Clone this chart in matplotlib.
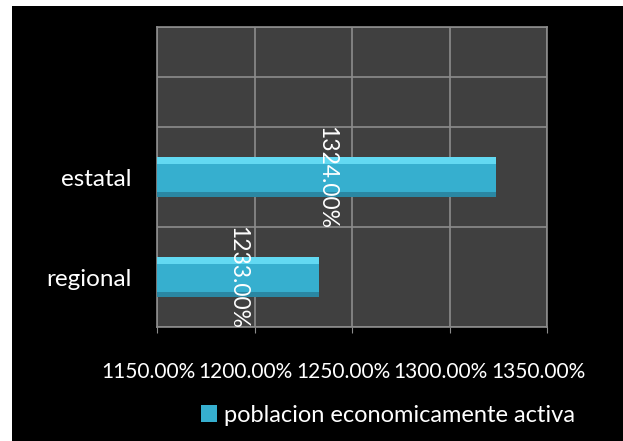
import matplotlib.pyplot as plt
from matplotlib.patches import Rectangle
from matplotlib.transforms import ScaledTranslation

# datos
categorias = ['regional', 'estatal']
valores = [1233, 1324]
posiciones = [1, 3]
serie = 'poblacion economicamente activa'
xticks = [1150, 1200, 1250, 1300, 1350]

plt.rcParams['font.family'] = ['Lato', 'DejaVu Sans']

fig = plt.figure(figsize=(6.23, 4.41), dpi=100, facecolor='white')
# fondo negro del grafico (borde blanco arriba e izquierda)
fig.patches.append(Rectangle((12 / 623, 0), 1, 1 - 6 / 441, transform=fig.transFigure,
                             facecolor='black', edgecolor='none', zorder=-10))

ax = fig.add_axes([157 / 623, 114 / 441, 390 / 623, 300 / 441])
ax.set_facecolor('#404040')

base = xticks[0]
ancho = [v - base for v in valores]
alto = 0.8
barras = ax.barh(posiciones, ancho, left=base, height=alto, color='#36afcf',
                 edgecolor='none', zorder=3, label=serie)
# bisel: brillo arriba, sombra abajo
ax.barh([p + alto / 2 - 0.07 for p in posiciones], ancho, left=base, height=0.14,
        color='#62d9f2', edgecolor='none', zorder=3)
ax.barh([p - alto / 2 + 0.05 for p in posiciones], ancho, left=base, height=0.1,
        color='#2a87a3', edgecolor='none', zorder=3)

for p, v in zip(posiciones, valores):
    ax.text((base + v) / 2, p, '%.2f%%' % v, rotation=-90, ha='center', va='center',
            color='white', fontsize=16.5, zorder=5)

ax.set_xlim(1150, 1350)
ax.set_ylim(0, 6)
ax.set_xticks(xticks)
ax.set_xticklabels([])
# etiquetas del eje x un poco corridas a la izquierda, como en el original
desplazar = ScaledTranslation(-9 / 100, -45 / 100, fig.dpi_scale_trans)
for t in xticks:
    ax.text(t, 0, '%.2f%%' % t, transform=ax.get_xaxis_transform() + desplazar,
            ha='center', va='center', color='white', fontsize=15, clip_on=False)
ax.set_yticks(range(7), minor=True)
ax.set_yticks(posiciones)
ax.set_yticklabels(categorias, color='white', fontsize=17.5)
ax.tick_params(axis='y', which='both', length=0, pad=18)
ax.tick_params(axis='x', length=4, color='#8c8c8c')

ax.grid(True, axis='x', color='#8c8c8c', linewidth=1.2, zorder=1)
ax.grid(True, axis='y', which='minor', color='#8c8c8c', linewidth=1.2, zorder=1)
for s in ax.spines.values():
    s.set_color('#8c8c8c')
    s.set_linewidth(1.2)

leg = fig.legend(handles=[barras], labels=[serie], loc='center', bbox_to_anchor=(388 / 623, 1 - 415 / 441),
                 frameon=False, fontsize=17, handlelength=0.7, handleheight=0.7, handletextpad=0.3)
for t in leg.get_texts():
    t.set_color('white')

fig.savefig('out.png', dpi=100, facecolor=fig.get_facecolor())
